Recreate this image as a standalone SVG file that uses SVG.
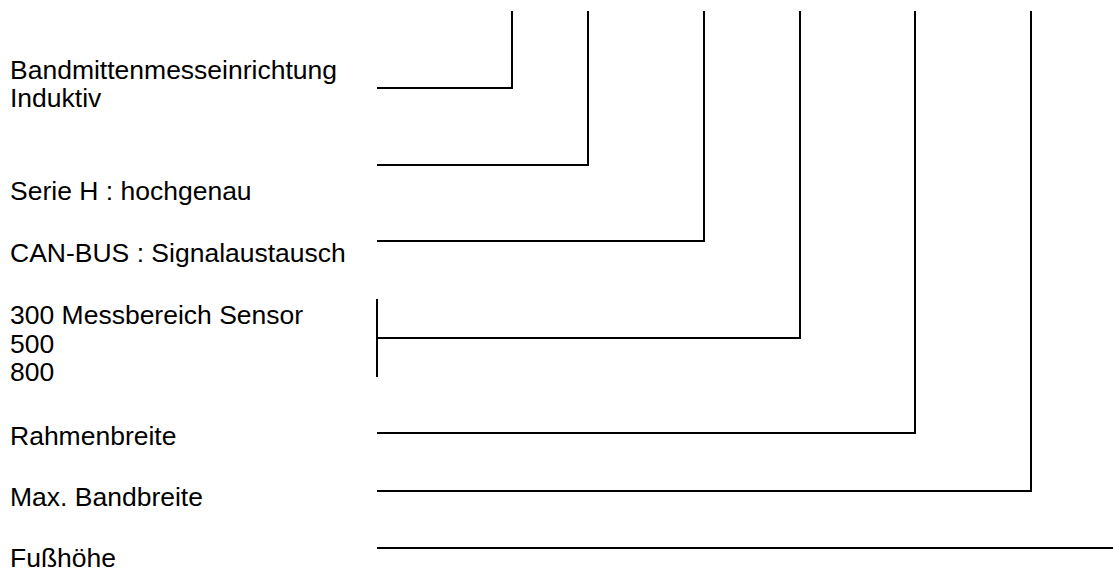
<svg xmlns="http://www.w3.org/2000/svg" width="1113" height="574" viewBox="0 0 1113 574">
  <style>
    .lbl { font-family: "Liberation Sans", Arial, sans-serif; font-size: 26.5px; fill: #000; }
    .ln { stroke: #000; stroke-width: 2; fill: none; }
  </style>
  <rect width="1113" height="574" fill="#fff"/>

  <!-- order code labels -->
  <g id="n-bandmitte">
    <text class="lbl" x="10" y="79">Bandmittenmesseinrichtung</text>
    <text class="lbl" x="10" y="107">Induktiv</text>
  </g>
  <g id="n-serie">
    <text class="lbl" x="10" y="200">Serie H : hochgenau</text>
  </g>
  <g id="n-canbus">
    <text class="lbl" x="10" y="262">CAN-BUS : Signalaustausch</text>
  </g>
  <g id="n-messbereich">
    <text class="lbl" x="10" y="324">300 Messbereich Sensor</text>
    <text class="lbl" x="10" y="353">500</text>
    <text class="lbl" x="10" y="381">800</text>
  </g>
  <g id="n-rahmen">
    <text class="lbl" x="10" y="445">Rahmenbreite</text>
  </g>
  <g id="n-bandbreite">
    <text class="lbl" x="10" y="506">Max. Bandbreite</text>
  </g>
  <g id="n-fuss">
    <text class="lbl" x="10" y="567">Fußhöhe</text>
  </g>

  <!-- leader lines from each label to its code position -->
  <g id="connectors" class="ln">
    <polyline points="377,88 512,88 512,11"/>
    <polyline points="377,165 588,165 588,11"/>
    <polyline points="377,241 704,241 704,11"/>
    <polyline points="377,338 800,338 800,11"/>
    <line x1="377" y1="299" x2="377" y2="377"/>
    <polyline points="377,433 915,433 915,11"/>
    <polyline points="377,491 1031,491 1031,11"/>
    <line x1="377" y1="548" x2="1113" y2="548"/>
  </g>
</svg>
